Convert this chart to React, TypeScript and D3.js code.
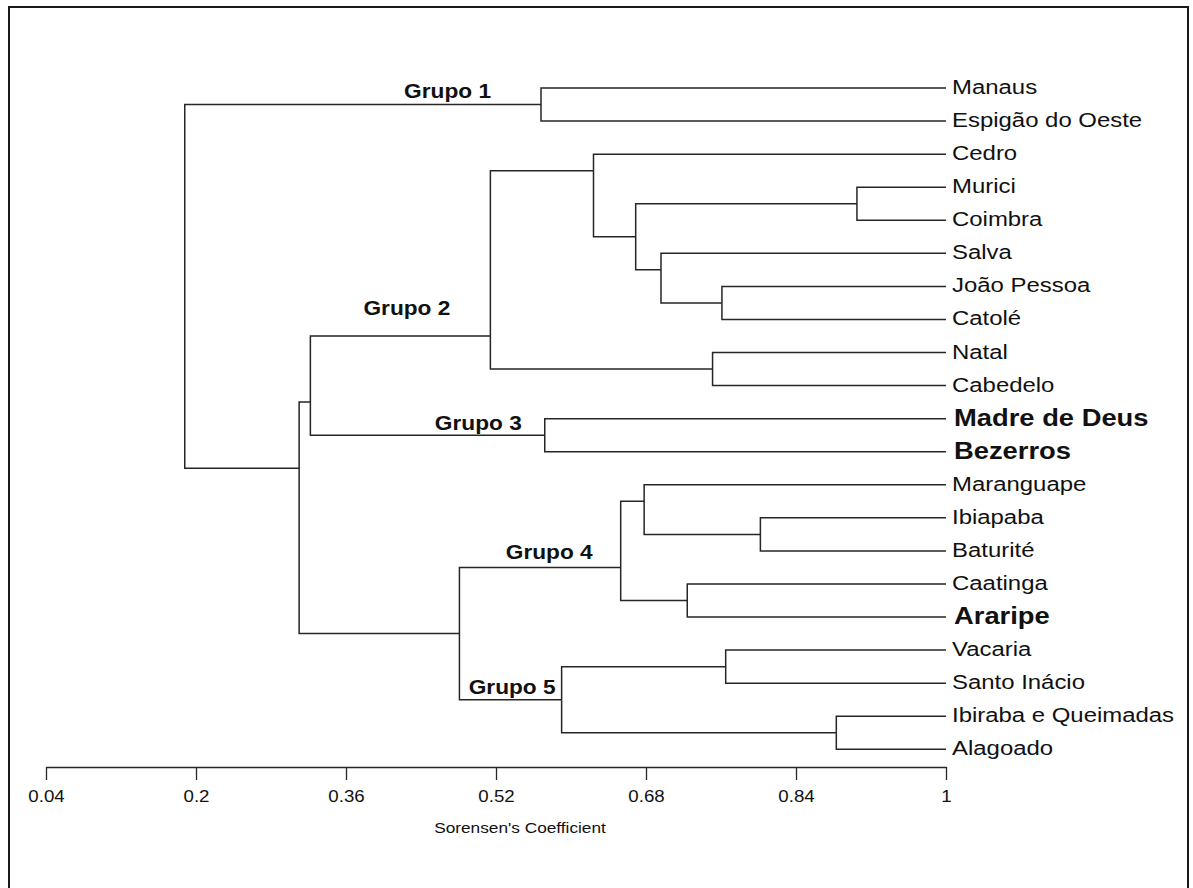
import React, { useEffect, useRef } from "react";
import * as d3 from "d3";

const leaves = [
  "Manaus", "Espigão do Oeste", "Cedro", "Murici", "Coimbra", "Salva",
  "João Pessoa", "Catolé", "Natal", "Cabedelo", "Madre de Deus", "Bezerros",
  "Maranguape", "Ibiapaba", "Baturité", "Caatinga", "Araripe", "Vacaria",
  "Santo Inácio", "Ibiraba e Queimadas", "Alagoado",
];
const boldLeaves = ["Madre de Deus", "Bezerros", "Araripe"];

// Agglomeration steps: "#k" refers to the cluster formed at step k
const mergeLeft = [
  "Murici", "João Pessoa", "Salva", "#0", "Cedro", "Natal", "#4", "Manaus",
  "Madre de Deus", "#6", "Ibiapaba", "Maranguape", "Caatinga", "#11",
  "Vacaria", "Ibiraba e Queimadas", "#14", "#13", "#9", "#7",
];
const mergeRight = [
  "Coimbra", "Catolé", "#1", "#2", "#3", "Cabedelo", "#5", "Espigão do Oeste",
  "Bezerros", "#8", "Baturité", "#10", "Araripe", "#12",
  "Santo Inácio", "Alagoado", "#15", "#16", "#17", "#18",
];
const mergeSimilarity = [
  0.905, 0.761, 0.696, 0.669, 0.624, 0.751, 0.514, 0.568,
  0.572, 0.322, 0.802, 0.678, 0.724, 0.653,
  0.765, 0.883, 0.59, 0.481, 0.31, 0.188,
];

const groupNames = ["Grupo 1", "Grupo 2", "Grupo 3", "Grupo 4", "Grupo 5"];
const groupSteps = [7, 6, 8, 13, 16];

const axisTicks = [0.04, 0.2, 0.36, 0.52, 0.68, 0.84, 1];
const axisTitle = "Sorensen's Coefficient";

// label placement offsets (px) relative to the node junction
const groupOffsets = [
  [-50, -7], [-40, -21], [-23, -5], [-28, -8], [-6, -6],
];

const W = 1193;
const H = 888;
const FONT = "'Liberation Sans', Arial, Helvetica, sans-serif";
const STRETCH = 1.14;

export default function App() {
  const ref = useRef<SVGSVGElement | null>(null);

  useEffect(() => {
    const svg = d3.select(ref.current);
    svg.selectAll("*").remove();

    const x = d3.scaleLinear().domain([0.04, 1]).range([46, 946]);
    const y = d3.scaleLinear().domain([0, leaves.length - 1]).range([88, 749.3]);

    // frame
    svg.append("rect")
      .attr("x", 9).attr("y", 7).attr("width", 1179).attr("height", 1000)
      .attr("fill", "none").attr("stroke", "#1a1a1a").attr("stroke-width", 2);

    type Info = { first: number; last: number; yc: number; xv: number };
    const info = (r: string, steps: Info[]): Info => {
      if (r.startsWith("#")) return steps[+r.slice(1)];
      const i = leaves.indexOf(r);
      return { first: i, last: i, yc: y(i), xv: x(1) };
    };
    const steps: Info[] = [];
    const lines = svg.append("g")
      .attr("stroke", "#262626").attr("stroke-width", 1.5).attr("fill", "none");

    mergeSimilarity.forEach((s, k) => {
      const a = info(mergeLeft[k], steps);
      const b = info(mergeRight[k], steps);
      const nx = x(s);
      const path = d3.path();
      path.moveTo(a.xv, a.yc);
      path.lineTo(nx, a.yc);
      path.lineTo(nx, b.yc);
      path.lineTo(b.xv, b.yc);
      lines.append("path").attr("d", path.toString());
      steps.push({
        first: a.first,
        last: b.last,
        yc: y((a.last + b.first) / 2),
        xv: nx,
      });
    });

    // leaf labels
    const lab = svg.append("g").attr("font-family", FONT).attr("fill", "#111");
    leaves.forEach((name, i) => {
      const bold = boldLeaves.includes(name);
      lab.append("text")
        .attr("transform", `translate(${x(1) + (bold ? 8 : 6)},${y(i) + (bold ? 7 : 6)}) scale(${STRETCH},1)`)
        .attr("font-size", bold ? 24 : 21)
        .attr("font-weight", bold ? "bold" : "normal")
        .text(name);
    });

    // group labels
    groupNames.forEach((g, i) => {
      const st = steps[groupSteps[i]];
      const [dx, dy] = groupOffsets[i];
      lab.append("text")
        .attr("transform", `translate(${st.xv + dx},${st.yc + dy}) scale(1.08,1)`)
        .attr("text-anchor", "end")
        .attr("font-size", 21)
        .attr("font-weight", "bold")
        .text(g);
    });

    // axis
    const ax = svg.append("g").attr("transform", "translate(0,767)")
      .call(
        d3.axisBottom(x).tickValues(axisTicks).tickSize(13).tickSizeOuter(0)
          .tickPadding(10).tickFormat((d) => String(d))
      );
    ax.select(".domain").attr("stroke", "#262626").attr("stroke-width", 1.5);
    ax.selectAll(".tick line").attr("stroke", "#262626").attr("stroke-width", 1.3);
    ax.selectAll(".tick text")
      .attr("font-family", FONT).attr("font-size", 17).attr("fill", "#111")
      .attr("transform", `scale(1.1,1)`);

    svg.append("text")
      .attr("transform", `translate(520,833) scale(1.15,1)`)
      .attr("text-anchor", "middle")
      .attr("font-family", FONT).attr("font-size", 15).attr("fill", "#111")
      .text(axisTitle);
  }, []);

  return (
    <svg
      ref={ref}
      width={W}
      height={H}
      style={{ position: "absolute", left: 0, top: 0, background: "#fff" }}
    />
  );
}
